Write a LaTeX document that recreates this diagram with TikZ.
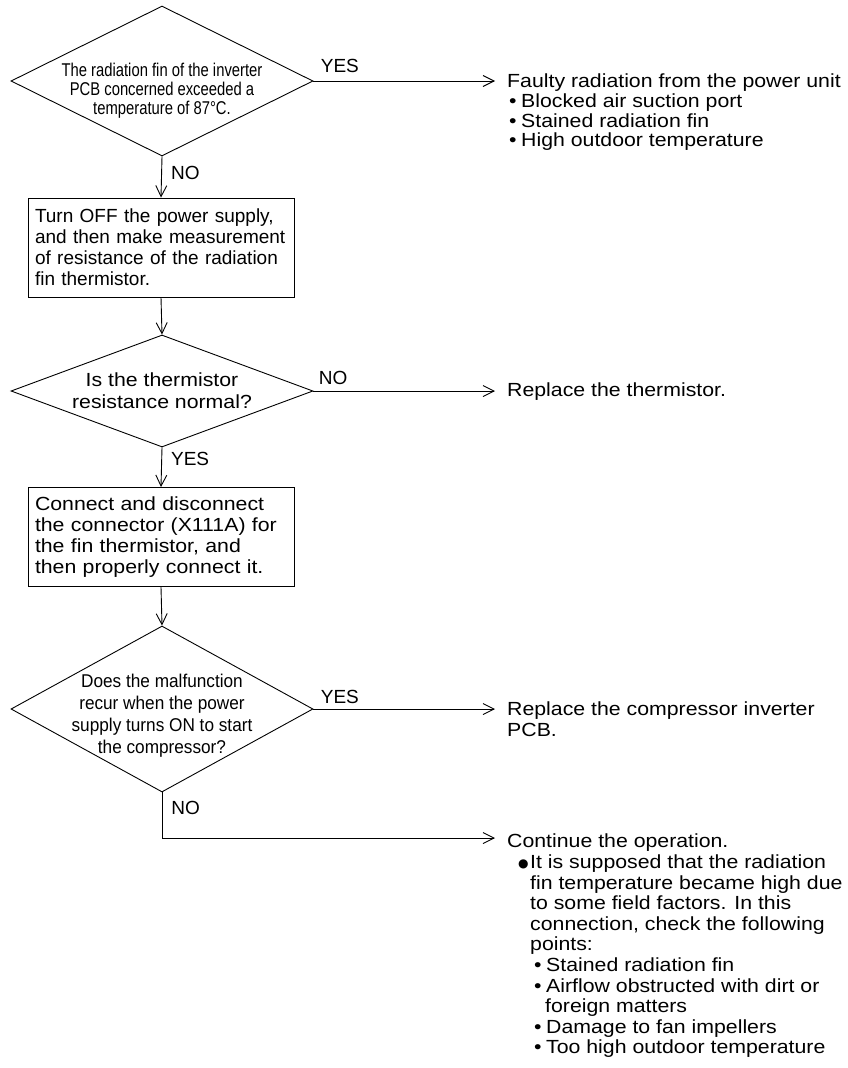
\documentclass[tikz,border=0pt]{standalone}
\usepackage{fontspec}
\setmainfont{Liberation Sans}
\newfontfamily\narrowfont[FakeStretch=0.8]{Liberation Sans}
\newfontfamily\narrowbfont[FakeStretch=0.93]{Liberation Sans}
\newfontfamily\widefont[FakeStretch=1.12]{Liberation Sans}
\newfontfamily\symfont{DejaVu Sans}
\usetikzlibrary{shapes.geometric,arrows.meta}
\newcommand{\bl}{\makebox[12pt][l]{•}}
\newcommand{\sbl}{\makebox[12pt][l]{•}}
\newcommand{\bigbl}{\makebox[12pt][l]{\raisebox{1.5pt}{\symfont\fontsize{12}{12}\selectfont ●}}}
\begin{document}
\begin{tikzpicture}[x=1pt,y=-1pt,
  lw/.style={line width=0.9pt},
  arr/.style={draw, lw, -{Straight Barb[length=11pt,width=11pt,line width=0.9pt]}},
  plain/.style={draw, lw},
  dia/.style={diamond, draw, lw, inner sep=0pt, minimum width=302pt},
  box/.style={rectangle, draw, lw, text width=252pt, inner xsep=7pt, inner ysep=0pt, minimum height=99pt, align=left, font=\fontsize{19}{21}\selectfont},
  txt/.style={font=\widefont\fontsize{19}{20.6}\selectfont, align=left, inner sep=0pt, anchor=north west},
  dtxt/.style={font=\narrowfont\fontsize{18.5}{19}\selectfont, align=center, inner sep=0pt},
  lbl/.style={font=\fontsize{19}{20}\selectfont, inner sep=0pt, anchor=west},
]
\useasboundingbox (0,0) rectangle (848,1068);
% decision 1
\node[dia, minimum height=150pt] (d1) at (162,81) {};
\node[dtxt] (d1t) at (162,91) {The radiation fin of the inverter\\PCB concerned exceeded a\\temperature of 87°C.};
% box 1
\node[box] (b1) at (161,247.5) {Turn OFF the power supply,\\and then make measurement\\of resistance of the radiation\\fin thermistor.};
% decision 2
\node[dia, minimum height=112pt] (d2) at (162,391) {};
\node[dtxt, font=\widefont\fontsize{19}{22}\selectfont] (d2t) at (162,391) {Is the thermistor\\resistance normal?};
% box 2
\node[box, font=\widefont\fontsize{19}{21}\selectfont] (b2) at (161,537) {Connect and disconnect\\the connector (X111A) for\\the fin thermistor, and\\then properly connect it.};
% decision 3
\node[dia, minimum height=166pt] (d3) at (162,709) {};
\node[dtxt, font=\narrowbfont\fontsize{18.5}{22}\selectfont] (d3t) at (162,716) {Does the malfunction\\recur when the power\\supply turns ON to start\\the compressor?};

% right texts
\node[txt, font=\widefont\fontsize{19}{19.6}\selectfont] (t1) at (507,74) {Faulty radiation from the power unit\\
\hspace*{2pt}\bl Blocked air suction port\\
\hspace*{2pt}\bl Stained radiation fin\\
\hspace*{2pt}\bl High outdoor temperature};
\node[txt] (t2) at (507,383) {Replace the thermistor.};
\node[txt] (t3) at (507,702) {Replace the compressor inverter\\PCB.};
\node[txt] (t4) at (507,834) {Continue the operation.\\
\hspace*{11pt}\bigbl It is supposed that the radiation\\
\hspace*{23pt}fin temperature became high due\\
\hspace*{23pt}to some field factors. In this\\
\hspace*{23pt}connection, check the following\\
\hspace*{23pt}points:\\
\hspace*{27pt}\sbl Stained radiation fin\\
\hspace*{27pt}\sbl Airflow obstructed with dirt or\\
\hspace*{38pt}foreign matters\\
\hspace*{27pt}\sbl Damage to fan impellers\\
\hspace*{27pt}\sbl Too high outdoor temperature};

\coordinate (e1) at (495,81);
\coordinate (e2) at (495,391);
\coordinate (e3) at (495,709);
\coordinate (c4) at (162,838);
\coordinate (e4) at (495,838);

% connectors
\draw[arr] (d1.east) -- (e1) node[lbl, pos=0, xshift=7pt, yshift=15pt] (y1) {YES};
\draw[arr] (d1.south) -- (b1.north) node[lbl, pos=0.4, xshift=9pt] (n1) {NO};
\draw[arr] (b1.south) -- (d2.north);
\draw[arr] (d2.east) -- (e2) node[lbl, pos=0, xshift=5pt, yshift=13pt] (n2) {NO};
\draw[arr] (d2.south) -- (b2.north) node[lbl, pos=0.3, xshift=9pt] (y2) {YES};
\draw[arr] (b2.south) -- (d3.north);
\draw[arr] (d3.east) -- (e3) node[lbl, pos=0, xshift=7pt, yshift=12pt] (y3) {YES};
\draw[plain] (d3.south) -- (c4) node[lbl, pos=0.35, xshift=9pt] (n3) {NO};
\draw[arr] (c4) -- (e4);
\end{tikzpicture}
\end{document}
